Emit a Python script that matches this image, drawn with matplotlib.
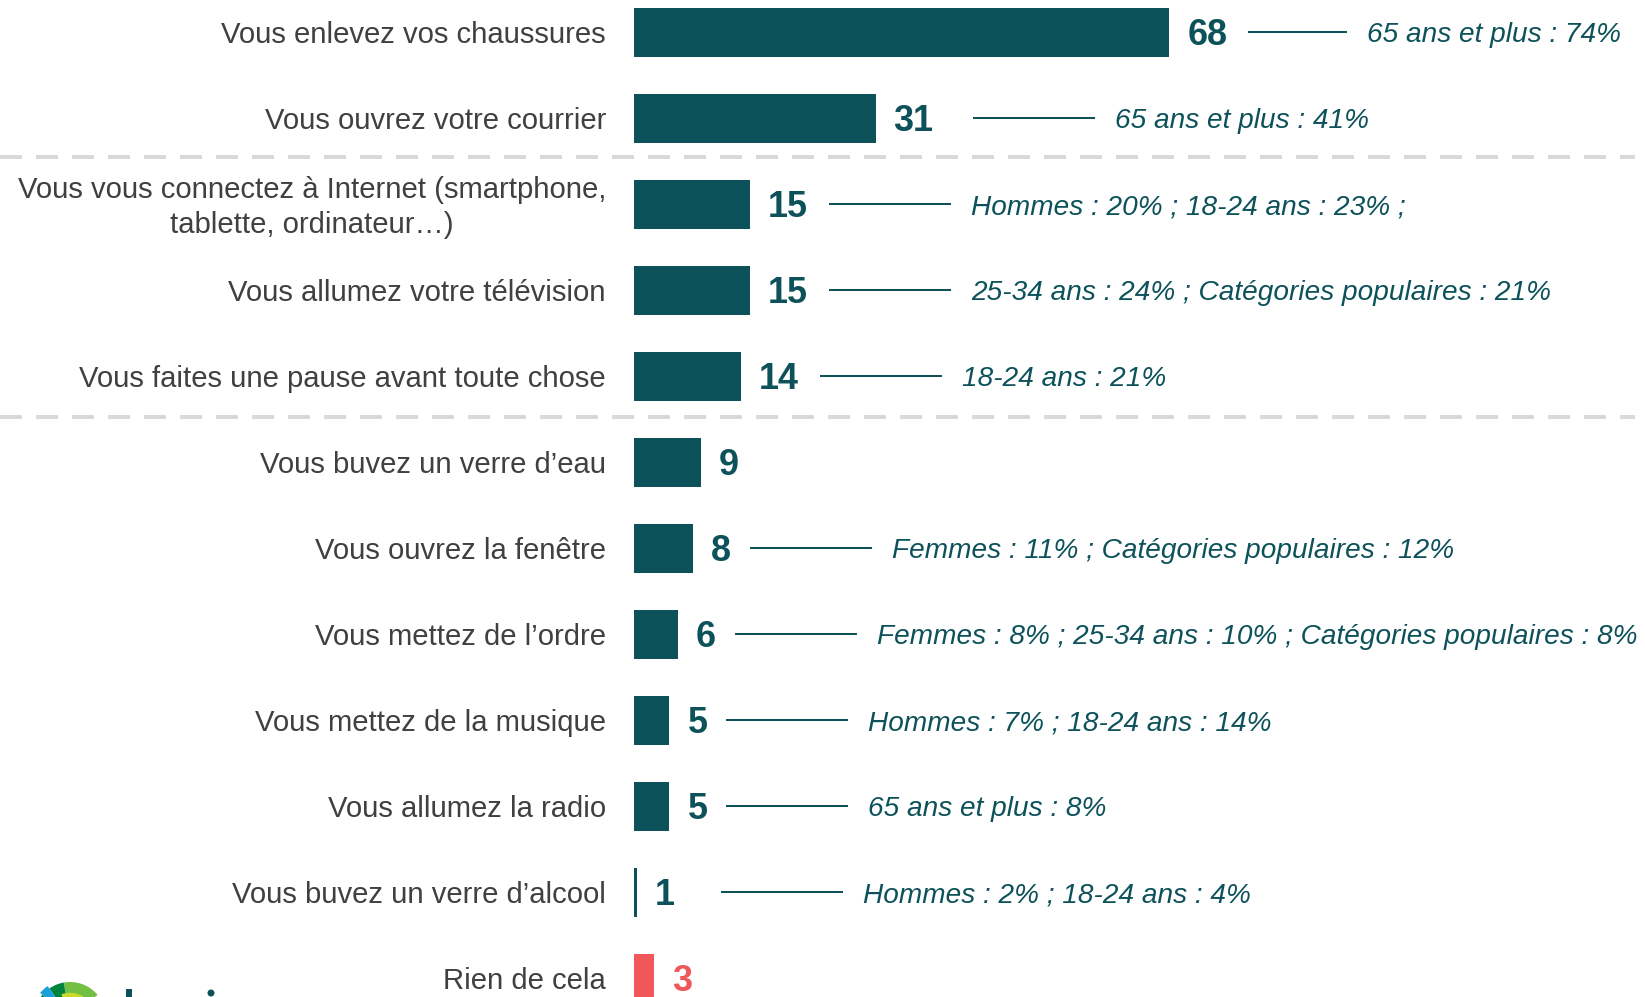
import numpy as np
import matplotlib.pyplot as plt
from matplotlib.patches import Wedge, Rectangle, Circle

plt.rcParams['font.family'] = ['Liberation Sans', 'DejaVu Sans']

# data
categories = ['Vous enlevez vos chaussures',
              'Vous ouvrez votre courrier',
              'Vous vous connectez à Internet (smartphone,\ntablette, ordinateur…)',
              'Vous allumez votre télévision',
              'Vous faites une pause avant toute chose',
              'Vous buvez un verre d’eau',
              'Vous ouvrez la fenêtre',
              'Vous mettez de l’ordre',
              'Vous mettez de la musique',
              'Vous allumez la radio',
              'Vous buvez un verre d’alcool',
              'Rien de cela']
# bar lengths (unrounded) and the rounded labels shown
values = [68.0, 30.7, 14.7, 14.7, 13.6, 8.5, 7.5, 5.6, 4.5, 4.5, 0.4, 2.5]
labels = [68, 31, 15, 15, 14, 9, 8, 6, 5, 5, 1, 3]
notes = ['65 ans et plus : 74%',
         '65 ans et plus : 41%',
         'Hommes : 20% ; 18-24 ans : 23% ;',
         '25-34 ans : 24% ; Catégories populaires : 21%',
         '18-24 ans : 21%',
         '',
         'Femmes : 11% ; Catégories populaires : 12%',
         'Femmes : 8% ; 25-34 ans : 10% ; Catégories populaires : 8%',
         'Hommes : 7% ; 18-24 ans : 14%',
         '65 ans et plus : 8%',
         'Hommes : 2% ; 18-24 ans : 4%',
         '']
separators = [1.45, 4.47]

teal = '#0D525A'
red = '#F0575A'
grey_txt = '#404040'

# connector lines were placed by hand in the original: a few extra gaps (px)
extra_gap = {1: 18, 10: 27}

DPI = 72
fig = plt.figure(figsize=(1645 / DPI, 997 / DPI), dpi=DPI)
ax = fig.add_axes([0, 0, 1, 1])

px_per_unit = 7.87
x0 = 634
ax.set_xlim(-x0 / px_per_unit, (1645 - x0) / px_per_unit)
row_px = 86.0
ax.set_ylim((997 - 32.5) / row_px, -32.5 / row_px)
ax.axis('off')

y = np.arange(len(categories))
colors = [teal] * (len(values) - 1) + [red]
ax.barh(y, values, height=0.58, color=colors)

for i, (cat, v, lab, note) in enumerate(zip(categories, values, labels, notes)):
    ax.annotate(cat, (0, i), xytext=(-28, -3), textcoords='offset points',
                ha='right', va='center', fontsize=29.3, color=grey_txt,
                multialignment='center', linespacing=1.3)
    ax.annotate(str(lab), (v, i), xytext=(18, -3), textcoords='offset points',
                ha='left', va='center', fontsize=36, fontweight='bold',
                color=colors[i])
    if note:
        start = 18 + 22 * len(str(lab)) + 18 + extra_gap.get(i, 0)
        length = 97 if i == 0 else 120
        x_a = v + start / px_per_unit
        x_b = x_a + length / px_per_unit
        ax.plot([x_a, x_b], [i, i], color=teal, lw=2)
        ax.annotate(note, (x_b, i), xytext=(21, -3), textcoords='offset points',
                    ha='left', va='center', fontsize=28, style='italic',
                    color=teal)

for s in separators:
    ax.plot([-x0 / px_per_unit, (1635 - x0) / px_per_unit], [s, s],
            color='#D9D9D9', lw=4, dashes=(5.5, 3.5))

# logo, mostly cut off by the bottom edge (pixel coordinates)
cx, cy, r = 70, -21, 36
logo = [Wedge((cx, cy), r, 40, 100, facecolor='#72BF44'),
        Wedge((cx, cy), r, 100, 125, facecolor='#00843D'),
        Wedge((cx, cy), r + 3, 125, 140, facecolor='#1BA0D8'),
        Wedge((cx, cy), r, 140, 200, facecolor='#00843D'),
        Wedge((cx, cy), r * 0.7, 40, 110, facecolor='#C9DA2B'),
        Rectangle((126, -10), 6, 18, facecolor=teal),
        Circle((211, 4), 3.5, facecolor=teal)]
for p in logo:
    p.set_transform(None)
    fig.add_artist(p)

fig.savefig('out.png', dpi=DPI)
